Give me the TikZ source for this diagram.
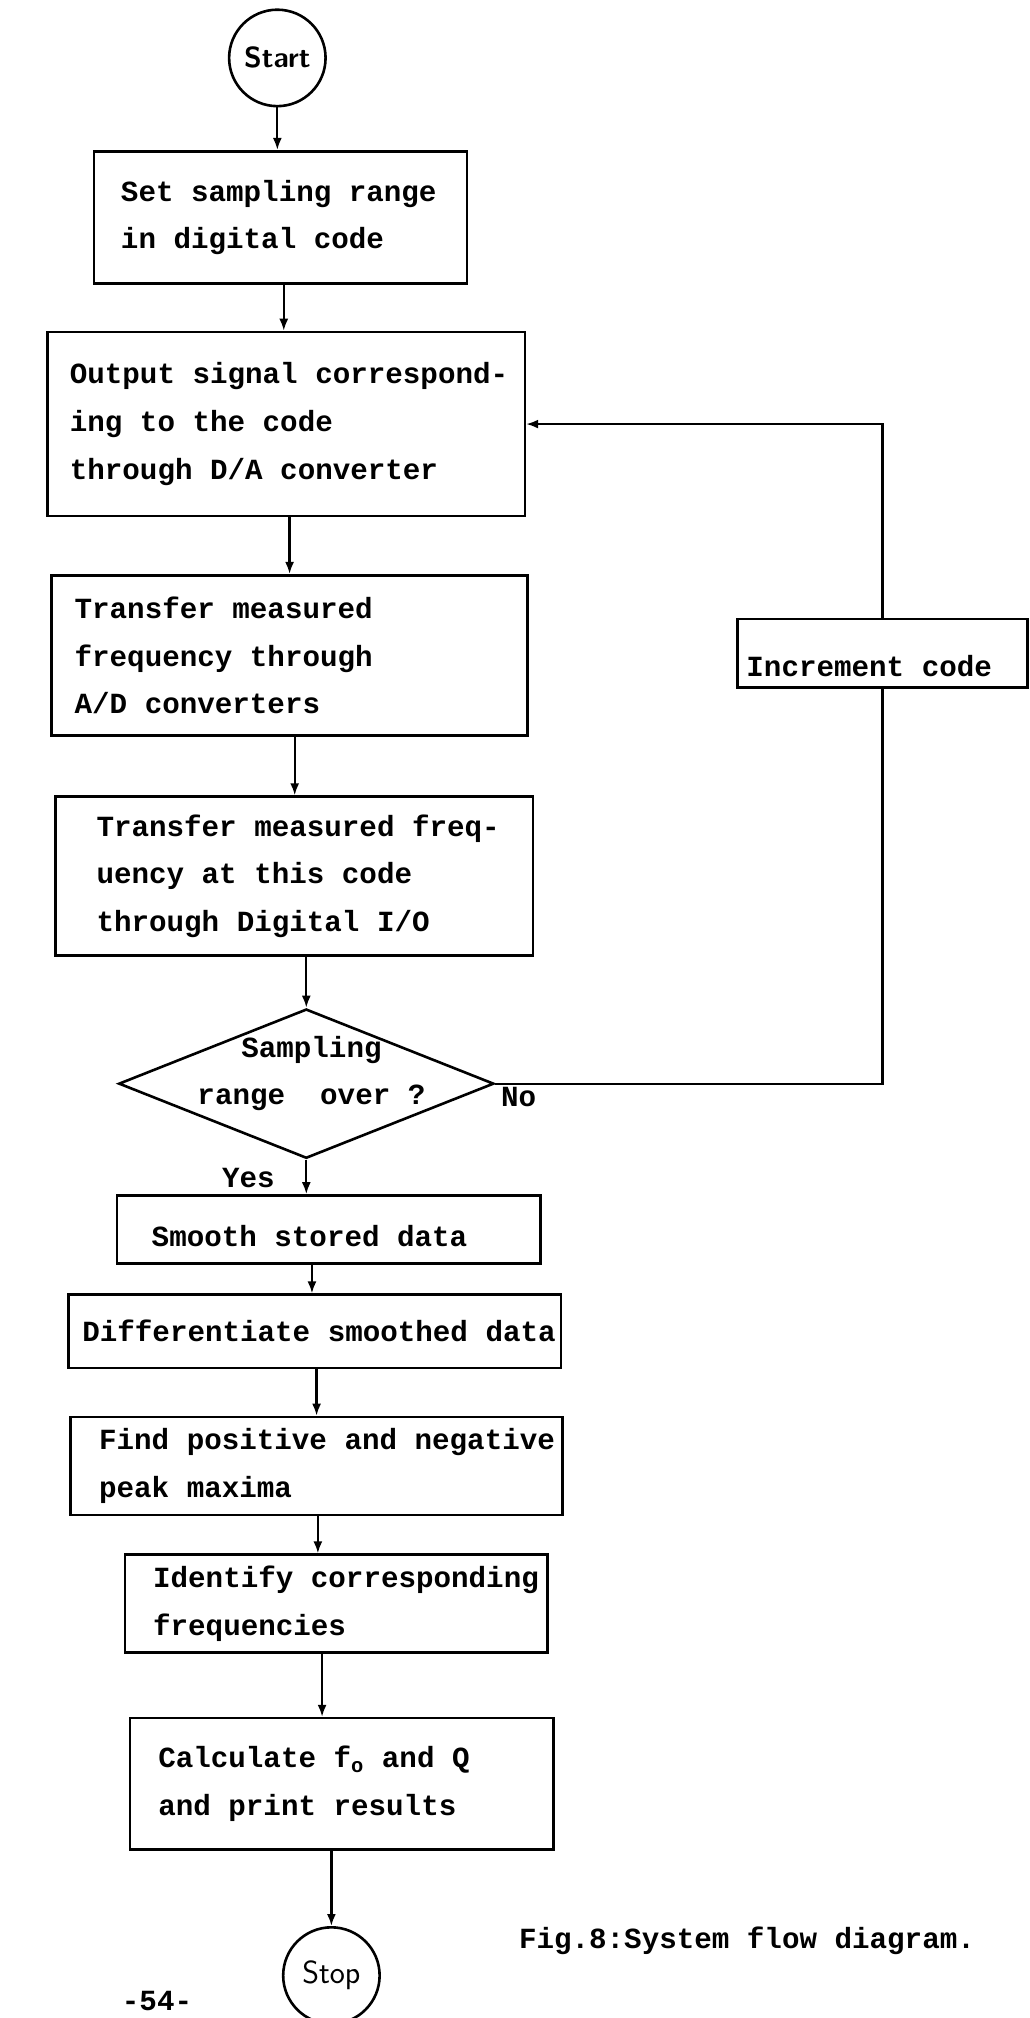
\documentclass[tikz,border=0pt]{standalone}
\usepackage{fontspec}
\setmonofont{Liberation Mono}
\usetikzlibrary{arrows.meta,shapes.geometric}
\newcommand{\twfont}{\ttfamily\bfseries\fontsize{14.6pt}{23.8pt}\selectfont}
\newcommand{\tline}[1]{\mbox{\spaceskip=0.6em\relax #1}}
\begin{document}
\begin{tikzpicture}[x=0.643125pt, y=-0.643125pt,
  pbox/.style={draw, line width=1.3pt, rectangle, align=left, inner ysep=0pt, font=\twfont},
  termc/.style={draw, circle, line width=1.3pt, minimum size=48.2pt, inner sep=0pt},
  conn/.style={draw, line width=1.1pt},
  arr/.style={draw, line width=1.1pt, -{Latex[length=6pt,width=4.5pt]}},
  lbl/.style={font=\twfont, inner sep=0pt}]
\path[fill=white] (0,0) rectangle (800,1568);
\useasboundingbox (0,0) rectangle (800,1568);

% terminals
\node[termc, font=\sffamily\bfseries\fontsize{14.5pt}{16pt}\selectfont] (start) at (215.5,45) {Start};
\node[termc, font=\sffamily\fontsize{16pt}{18pt}\selectfont] (stop) at (257.5,1535) {Stop};

% process boxes
\node[pbox, minimum width=186.51pt, minimum height=66.24pt, text width=159.49pt, inner xsep=13.51pt] (b1) at (218,169)
  {\tline{Set sampling range}\\\tline{in digital code}};
\node[pbox, minimum width=238.6pt, minimum height=91.97pt, text width=216.1pt, inner xsep=11.25pt] (b2) at (222.3,329.5)
  {\tline{Output signal correspond-}\\\tline{ing to the code}\\\tline{through D/A converter}};
\node[pbox, minimum width=237.96pt, minimum height=80.07pt, text width=214.8pt, inner xsep=11.58pt] (b3) at (225,509.2)
  {\tline{Transfer measured}\\\tline{frequency through}\\\tline{A/D converters}};
\node[pbox, minimum width=238.6pt, minimum height=79.49pt, text width=197.44pt, inner xsep=20.58pt] (b4) at (228.5,680.8)
  {\tline{Transfer measured freq-}\\\tline{uency at this code}\\\tline{through Digital I/O}};

% decision
\node[diamond, draw, line width=1.3pt, minimum width=187.47pt, minimum height=74.6pt, inner sep=0pt] (d) at (238,842) {};
\node[lbl, align=center] (dtext) at (242,834) {\tline{Sampling}\\\tline{range\ \ over ?}};
\node[lbl] (no) at (403,852) {No};
\node[lbl] (yes) at (193,915) {Yes};

% loop box
\node[pbox, minimum width=145.03pt, minimum height=34.09pt, text width=136.03pt, inner xsep=4.5pt,
  text height=28.94pt, text depth=5.15pt] (inc) at (685.75,507.5) {\tline{Increment code}};

% lower boxes
\node[pbox, minimum width=211.59pt, minimum height=34.09pt, text width=176.87pt, inner xsep=17.36pt,
  text height=25.6pt, text depth=8.49pt] (smooth) at (255.4,955.4) {\tline{Smooth stored data}};
\node[pbox, minimum width=246.32pt, minimum height=36.66pt, text width=232.18pt, inner xsep=7.07pt,
  text height=23.54pt, text depth=13.12pt] (diff) at (244.5,1034.5) {\tline{Differentiate smoothed data}};
\node[pbox, minimum width=245.67pt, minimum height=48.88pt, text width=217.37pt, inner xsep=14.15pt] (find) at (246,1139)
  {\tline{Find positive and negative}\\\tline{peak maxima}};
\node[pbox, minimum width=211.27pt, minimum height=48.88pt, text width=182.97pt, inner xsep=14.15pt] (ident) at (261.25,1246)
  {\tline{Identify corresponding}\\\tline{frequencies}};
\node[pbox, minimum width=211.59pt, minimum height=65.6pt, text width=183.29pt, inner xsep=14.15pt] (calc) at (265.5,1386)
  {\tline{Calculate f\textsubscript{o} and Q}\\\tline{and print results}};

% caption and page number
\node[lbl, anchor=base west] (cap) at (403,1514) {\tline{Fig.8:System flow diagram.}};
\node[lbl, anchor=base] (pg) at (122,1562) {-54-};

% connectors
\draw[arr] (start.south) -- (start.south |- b1.north);
\draw[arr] ([xshift=1.61pt]b1.south) -- ([xshift=1.61pt]b1.south |- b2.north);
\draw[arr] ([xshift=1.74pt]b2.south) -- ([xshift=1.74pt]b2.south |- b3.north);
\draw[arr] ([xshift=2.57pt]b3.south) -- ([xshift=2.57pt]b3.south |- b4.north);
\draw[arr] (d.north |- b4.south) -- (d.north);
\draw[arr] (d.south) -- (d.south |- smooth.north);
\draw[arr] ([xshift=-8.36pt]smooth.south) -- ([xshift=-8.36pt]smooth.south |- diff.north);
\draw[arr] ([xshift=0.96pt]diff.south) -- ([xshift=0.96pt]diff.south |- find.north);
\draw[arr] ([xshift=0.64pt]find.south) -- ([xshift=0.64pt]find.south |- ident.north);
\draw[arr] ([xshift=-7.07pt]ident.south) -- ([xshift=-7.07pt]ident.south |- calc.north);
\draw[arr] (stop.north |- calc.south) -- (stop.north);

% loop back
\draw[conn] (d.east) -- (d.east -| inc.south) -- (inc.south);
\draw[arr] (inc.north) -- (inc.north |- b2.east) -- (b2.east);
\end{tikzpicture}
\end{document}
